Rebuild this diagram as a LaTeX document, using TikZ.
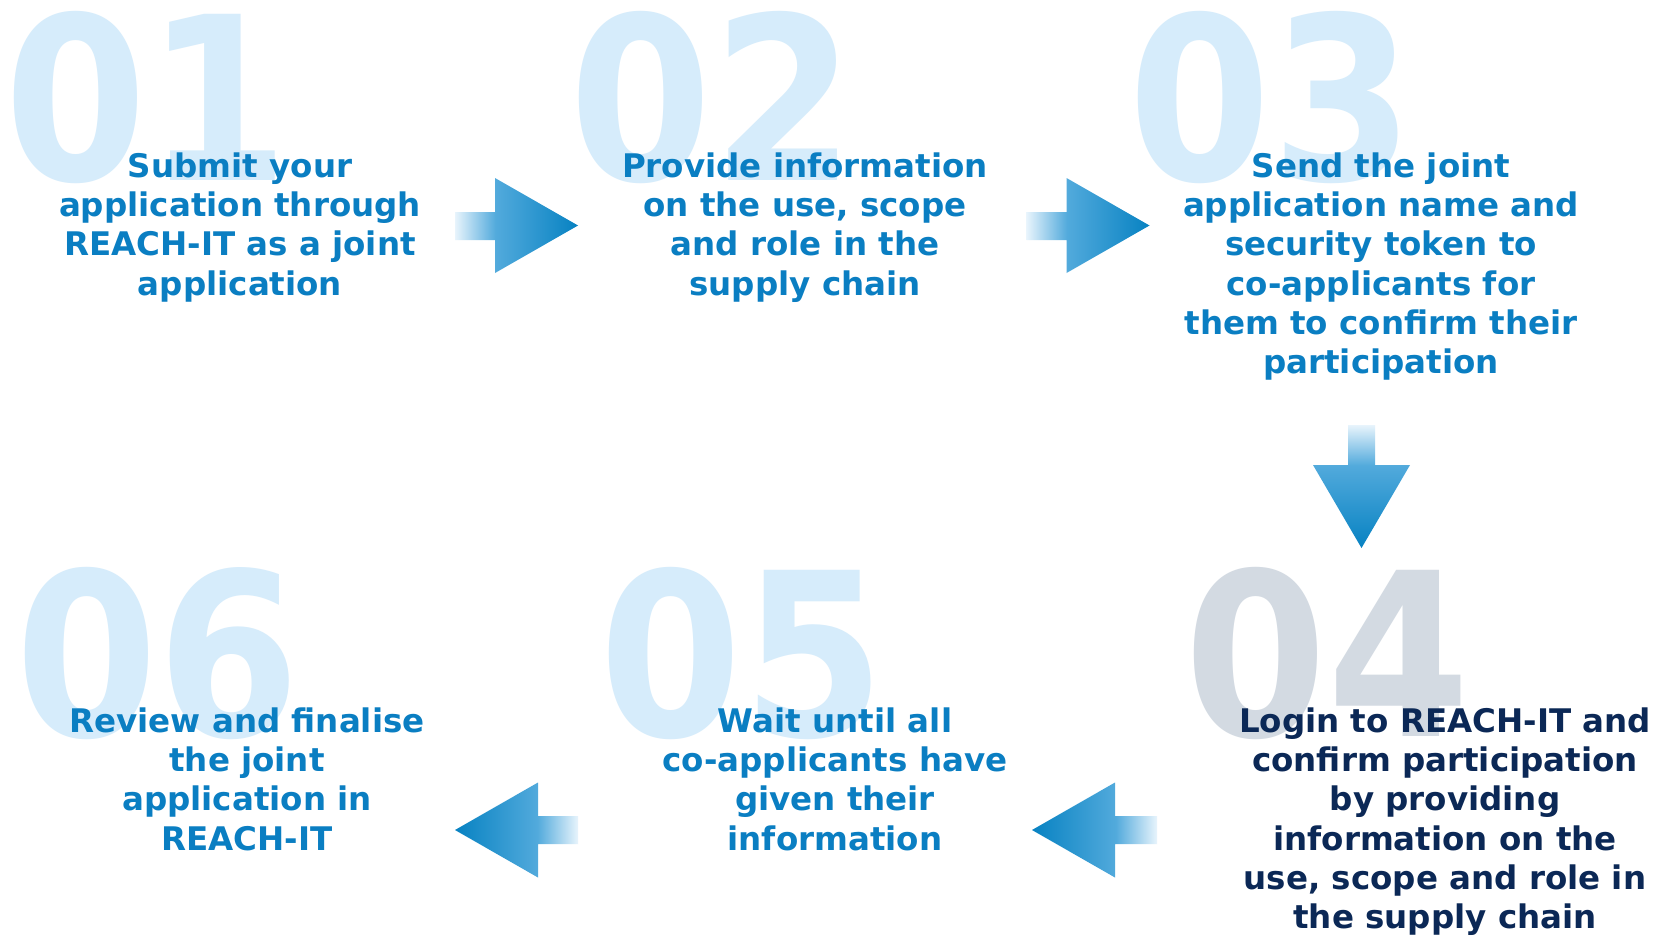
\documentclass[tikz,border=0pt]{standalone}
\usepackage{fontspec}
\setmainfont{DejaVu Sans}
\definecolor{stepblue}{HTML}{0A7EC2}
\definecolor{stepnavy}{HTML}{0B2856}
\definecolor{numblue}{HTML}{D6ECFB}
\definecolor{numgrey}{HTML}{D3DAE2}
\definecolor{arrA}{HTML}{E8F4FC}
\definecolor{arrB}{HTML}{52AADC}
\definecolor{arrC}{HTML}{0782C2}
\pgfdeclarehorizontalshading{blockarrow}{100bp}{color(0bp)=(arrA); color(25bp)=(arrA); color(41.5bp)=(arrB); color(75bp)=(arrC); color(100bp)=(arrC)}
\tikzset{
  steptext/.style={anchor=north, align=center, inner sep=0pt,
    font=\bfseries\fontsize{32.5}{39.3}\selectfont, text=stepblue},
  bignum/.style={anchor=base west, inner sep=0pt, xscale=0.9,
    font=\bfseries\fontsize{228}{228}\selectfont, text=numblue},
  barrow/.style={shade, shading=blockarrow, draw=none}
}
\begin{document}
\begin{tikzpicture}[x=1pt,y=-1pt]
\useasboundingbox[fill=white] (0,0) rectangle (1675,937);
% big numbers
\node[bignum] (n1) at (4,180) {01};
\node[bignum] (n2) at (569,180) {02};
\node[bignum] (n3) at (1128,180) {03};
\node[bignum, text=numgrey] (n4) at (1184,736) {04};
\node[bignum] (n5) at (599,736) {05};
\node[bignum] (n6) at (15,736) {06};
% arrows
\path[barrow] (455,212) -- (495,212) -- (495,178) -- (578,225.5) -- (495,273) -- (495,240) -- (455,240) -- cycle;
\path[barrow] (1026.5,212) -- (1066.5,212) -- (1066.5,178) -- (1149.5,225.5) -- (1066.5,273) -- (1066.5,240) -- (1026.5,240) -- cycle;
\path[barrow, shading angle=-90] (1348,425) -- (1348,465) -- (1313,465) -- (1361.5,548) -- (1410,465) -- (1375,465) -- (1375,425) -- cycle;
\path[barrow, shading angle=180] (1157,816) -- (1115,816) -- (1115,782.5) -- (1032,830) -- (1115,877.5) -- (1115,844) -- (1157,844) -- cycle;
\path[barrow, shading angle=180] (578,816) -- (538,816) -- (538,782.5) -- (455,830) -- (538,877.5) -- (538,844) -- (578,844) -- cycle;
% step texts
\node[steptext] (s1) at (240,152.3) {Submit your\\application through\\REACH-IT as a joint\\application};
\node[steptext] (s2) at (805,152.3) {Provide information\\on the use, scope\\and role in the\\supply chain};
\node[steptext] (s3) at (1381,152.3) {Send the joint\\application name and\\security token to\\co-applicants for\\them to confirm their\\participation};
\node[steptext, text=stepnavy] (s4) at (1445,707.3) {Login to REACH-IT and\\confirm participation\\by providing\\information on the\\use, scope and role in\\the supply chain};
\node[steptext] (s5) at (835,707.3) {Wait until all\\co-applicants have\\given their\\information};
\node[steptext] (s6) at (247,707.3) {Review and finalise\\the joint\\application in\\REACH-IT};
\end{tikzpicture}
\end{document}
